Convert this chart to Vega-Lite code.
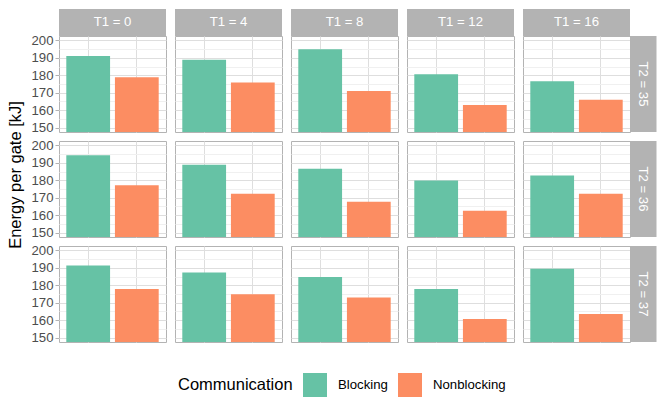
{
  "$schema": "https://vega.github.io/schema/vega-lite/v6.json",
  "description": "Energy per gate by communication mode, faceted by T1 (columns) and T2 (rows).",
  "padding": {"left": 7, "top": 8, "right": 8, "bottom": 10},
  "data": {
    "values": [
      {"T1": 0, "T2": 35, "Communication": "Blocking", "Energy": 191.0},
      {"T1": 0, "T2": 35, "Communication": "Nonblocking", "Energy": 178.8},
      {"T1": 4, "T2": 35, "Communication": "Blocking", "Energy": 188.9},
      {"T1": 4, "T2": 35, "Communication": "Nonblocking", "Energy": 175.8},
      {"T1": 8, "T2": 35, "Communication": "Blocking", "Energy": 194.9},
      {"T1": 8, "T2": 35, "Communication": "Nonblocking", "Energy": 171.0},
      {"T1": 12, "T2": 35, "Communication": "Blocking", "Energy": 180.6},
      {"T1": 12, "T2": 35, "Communication": "Nonblocking", "Energy": 163.0},
      {"T1": 16, "T2": 35, "Communication": "Blocking", "Energy": 176.6},
      {"T1": 16, "T2": 35, "Communication": "Nonblocking", "Energy": 166.0},
      {"T1": 0, "T2": 36, "Communication": "Blocking", "Energy": 194.3},
      {"T1": 0, "T2": 36, "Communication": "Nonblocking", "Energy": 177.1},
      {"T1": 4, "T2": 36, "Communication": "Blocking", "Energy": 188.9},
      {"T1": 4, "T2": 36, "Communication": "Nonblocking", "Energy": 172.3},
      {"T1": 8, "T2": 36, "Communication": "Blocking", "Energy": 186.6},
      {"T1": 8, "T2": 36, "Communication": "Nonblocking", "Energy": 167.7},
      {"T1": 12, "T2": 36, "Communication": "Blocking", "Energy": 179.8},
      {"T1": 12, "T2": 36, "Communication": "Nonblocking", "Energy": 162.6},
      {"T1": 16, "T2": 36, "Communication": "Blocking", "Energy": 182.8},
      {"T1": 16, "T2": 36, "Communication": "Nonblocking", "Energy": 172.3},
      {"T1": 0, "T2": 37, "Communication": "Blocking", "Energy": 191.3},
      {"T1": 0, "T2": 37, "Communication": "Nonblocking", "Energy": 177.8},
      {"T1": 4, "T2": 37, "Communication": "Blocking", "Energy": 187.3},
      {"T1": 4, "T2": 37, "Communication": "Nonblocking", "Energy": 174.9},
      {"T1": 8, "T2": 37, "Communication": "Blocking", "Energy": 184.8},
      {"T1": 8, "T2": 37, "Communication": "Nonblocking", "Energy": 173.0},
      {"T1": 12, "T2": 37, "Communication": "Blocking", "Energy": 177.8},
      {"T1": 12, "T2": 37, "Communication": "Nonblocking", "Energy": 160.7},
      {"T1": 16, "T2": 37, "Communication": "Blocking", "Energy": 189.5},
      {"T1": 16, "T2": 37, "Communication": "Nonblocking", "Energy": 163.6}
    ]
  },
  "facet": {
    "column": {"field": "T1", "type": "ordinal", "header": null},
    "row": {
      "field": "T2",
      "type": "ordinal",
      "title": "Energy per gate [kJ]",
      "header": {"labels": false, "titleFontSize": 16.5, "titleFontWeight": "normal", "titleColor": "black", "titlePadding": -4}
    }
  },
  "spacing": {"row": 9, "column": 9},
  "bounds": "flush",
  "spec": {
    "width": 107,
    "height": 96,
    "layer": [
      {
        "mark": {"type": "bar", "clip": true},
        "encoding": {
          "x": {
            "field": "Communication",
            "type": "nominal",
            "scale": {"paddingInner": 0.1, "paddingOuter": 0.15},
            "axis": {"labels": false, "ticks": false, "domain": false, "title": null, "grid": true, "gridColor": "#DEDEDE", "gridWidth": 1}
          },
          "y": {
            "field": "Energy",
            "type": "quantitative",
            "scale": {"domain": [147.5, 202.5], "nice": false, "zero": false},
            "axis": {
              "title": null,
              "values": [150, 155, 160, 165, 170, 175, 180, 185, 190, 195, 200],
              "labelExpr": "datum.value % 10 === 0 ? datum.label : ''",
              "labelOverlap": false,
              "domain": false,
              "gridColor": {"condition": {"test": "datum.value % 10 === 0", "value": "#DEDEDE"}, "value": "#F0F0F0"},
              "tickColor": {"condition": {"test": "datum.value % 10 === 0", "value": "#B3B3B3"}, "value": "transparent"},
              "tickSize": 4,
              "labelPadding": 2,
              "labelFontSize": 13.2,
              "labelColor": "#4D4D4D"
            }
          },
          "color": {
            "field": "Communication",
            "type": "nominal",
            "scale": {"range": ["#66C2A5", "#FC8D62"]},
            "legend": {
              "orient": "none",
              "legendX": 119,
              "legendY": 337,
              "direction": "horizontal",
              "titleOrient": "left",
              "titlePadding": 10,
              "symbolType": "square",
              "symbolSize": 576,
              "symbolStrokeWidth": 0,
              "labelFontSize": 13.2,
              "labelColor": "black",
              "titleFontSize": 16.5,
              "titleFontWeight": "normal",
              "titleColor": "black",
              "columnPadding": 10,
              "labelOffset": 11
            }
          }
        }
      },
      {
        "transform": [
          {"filter": "datum.T2 == 35"},
          {"aggregate": [{"op": "count", "as": "n"}], "groupby": ["T1", "T2"]}
        ],
        "mark": {"type": "rect", "fill": "#B3B3B3", "clip": false},
        "encoding": {
          "y": {
            "datum": 202.5,
            "type": "quantitative",
            "axis": {
              "title": null,
              "values": [150, 155, 160, 165, 170, 175, 180, 185, 190, 195, 200],
              "labelExpr": "datum.value % 10 === 0 ? datum.label : ''",
              "labelOverlap": false,
              "domain": false,
              "gridColor": {"condition": {"test": "datum.value % 10 === 0", "value": "#DEDEDE"}, "value": "#F0F0F0"},
              "tickColor": {"condition": {"test": "datum.value % 10 === 0", "value": "#B3B3B3"}, "value": "transparent"},
              "tickSize": 4,
              "labelPadding": 2,
              "labelFontSize": 13.2,
              "labelColor": "#4D4D4D"
            }
          },
          "y2": {"datum": 218}
        }
      },
      {
        "transform": [
          {"filter": "datum.T2 == 35"},
          {"aggregate": [{"op": "count", "as": "n"}], "groupby": ["T1", "T2"]},
          {"calculate": "'T1 = ' + datum.T1", "as": "label"}
        ],
        "mark": {"type": "text", "color": "white", "fontSize": 13.2, "clip": false},
        "encoding": {
          "y": {
            "datum": 210.25,
            "type": "quantitative",
            "axis": {
              "title": null,
              "values": [150, 155, 160, 165, 170, 175, 180, 185, 190, 195, 200],
              "labelExpr": "datum.value % 10 === 0 ? datum.label : ''",
              "labelOverlap": false,
              "domain": false,
              "gridColor": {"condition": {"test": "datum.value % 10 === 0", "value": "#DEDEDE"}, "value": "#F0F0F0"},
              "tickColor": {"condition": {"test": "datum.value % 10 === 0", "value": "#B3B3B3"}, "value": "transparent"},
              "tickSize": 4,
              "labelPadding": 2,
              "labelFontSize": 13.2,
              "labelColor": "#4D4D4D"
            }
          },
          "text": {"field": "label"}
        }
      },
      {
        "transform": [
          {"filter": "datum.T1 == 16"},
          {"aggregate": [{"op": "count", "as": "n"}], "groupby": ["T1", "T2"]}
        ],
        "mark": {"type": "rect", "fill": "#B3B3B3", "clip": false},
        "encoding": {
          "x": {"datum": "Nonblocking", "type": "nominal", "bandPosition": 1.1668},
          "x2": {"datum": "Nonblocking", "bandPosition": 1.7722}
        }
      },
      {
        "transform": [
          {"filter": "datum.T1 == 16"},
          {"aggregate": [{"op": "count", "as": "n"}], "groupby": ["T1", "T2"]},
          {"calculate": "'T2 = ' + datum.T2", "as": "label"}
        ],
        "mark": {"type": "text", "color": "white", "fontSize": 13.2, "angle": 90, "clip": false},
        "encoding": {
          "x": {"datum": "Nonblocking", "type": "nominal", "bandPosition": 1.4695},
          "text": {"field": "label"}
        }
      }
    ]
  },
  "config": {
    "font": "Liberation Sans",
    "view": {"stroke": "#B3B3B3", "strokeWidth": 1},
    "axis": {"labelOverlap": false},
    "axisY": {"labelOverlap": false}
  }
}
